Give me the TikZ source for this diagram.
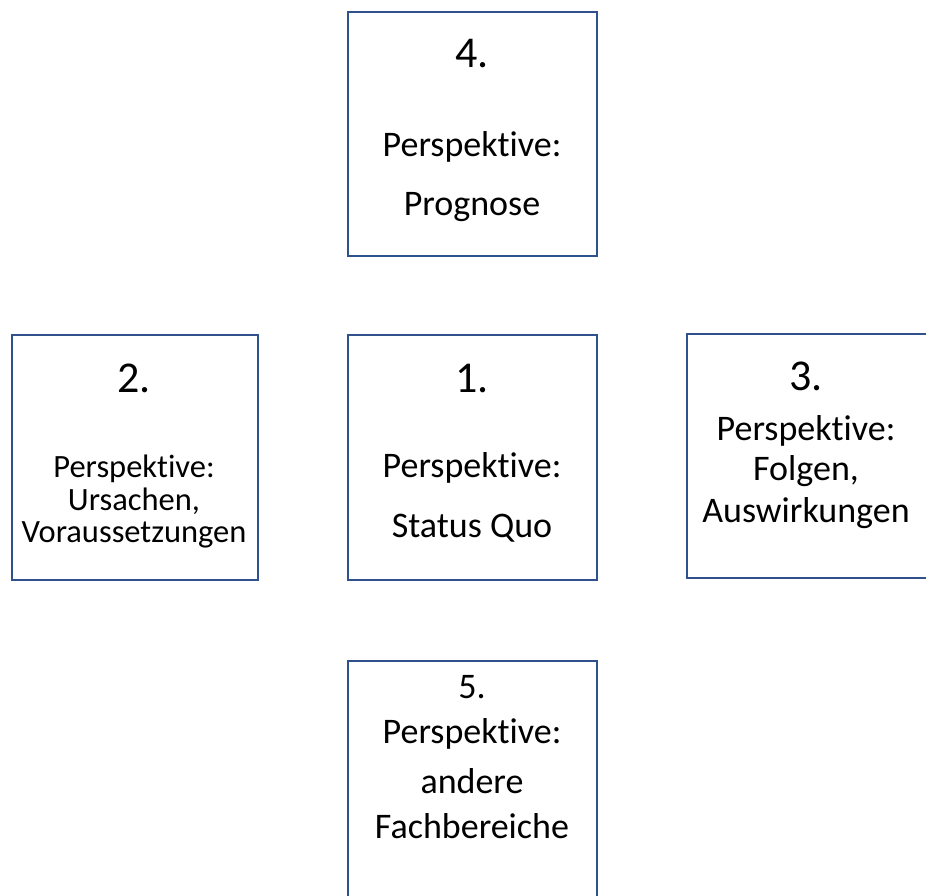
\documentclass[tikz,border=0pt]{standalone}
\usepackage{fontspec}
\setmainfont{Carlito}[Ligatures=NoCommon]
\definecolor{boxblue}{HTML}{2F528F}
\begin{document}
\begin{tikzpicture}[x=1pt,y=-1pt,
  pbox/.style={draw=boxblue,line width=2.2pt,fill=none},
  big/.style={anchor=base,inner sep=0pt,font=\fontsize{44}{50}\selectfont},
  txt/.style={anchor=base,inner sep=0pt,font=\fontsize{36}{42}\selectfont},
  small/.style={anchor=base,inner sep=0pt,font=\fontsize{32.5}{38}\selectfont}]
\useasboundingbox (0,0) rectangle (926,896);
\clip (0,0) rectangle (926,896);
% boxes
\draw[pbox] (348,12) rectangle (597,256) coordinate (b4);
\draw[pbox] (12,335) rectangle (258,580) coordinate (b2);
\draw[pbox] (348,335) rectangle (597,580) coordinate (b1);
\draw[pbox] (687,334) rectangle (927,578) coordinate (b3);
\draw[pbox] (348,661) rectangle (597,910) coordinate (b5);
% box 4
\node[big] (t4a) at (472,68) {4.};
\node[txt] (t4b) at (472,157) {Perspektive:};
\node[txt] (t4c) at (472,215) {Prognose};
% box 2
\node[big] (t2a) at (134,392) {2.};
\node[small] (t2b) at (134,477) {Perspektive:};
\node[small] (t2c) at (134,510) {Ursachen,};
\node[small] (t2d) at (134,542) {Voraussetzungen};
% box 1
\node[big] (t1a) at (472,392) {1.};
\node[txt] (t1b) at (472,477) {Perspektive:};
\node[txt] (t1c) at (472,537) {Status Quo};
% box 3
\node[big] (t3a) at (806,390) {3.};
\node[txt] (t3b) at (806,440) {Perspektive:};
\node[txt] (t3c) at (806,480) {Folgen,};
\node[txt] (t3d) at (806,522) {Auswirkungen};
% box 5
\node[txt] (t5a) at (472,698) {5.};
\node[txt] (t5b) at (472,743) {Perspektive:};
\node[txt] (t5c) at (472,793) {andere};
\node[txt] (t5d) at (472,838) {Fachbereiche};
\end{tikzpicture}
\end{document}
